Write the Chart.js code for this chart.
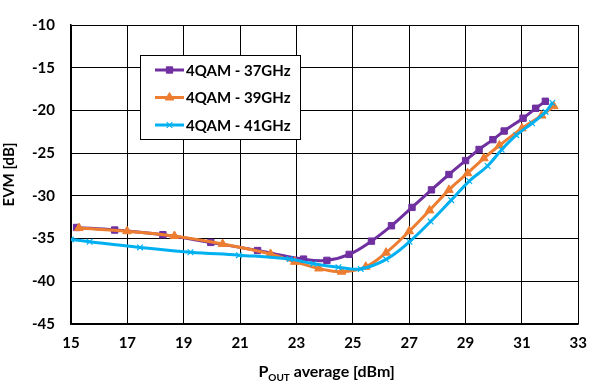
<!DOCTYPE html>
<html>
<head>
<meta charset="utf-8">
<script src="https://cdn.jsdelivr.net/npm/chart.js@4"></script>
<style>
  html, body { margin: 0; padding: 0; background: #fff; }
  #wrap { width: 597px; height: 385px; }
</style>
</head>
<body>
<div id="wrap"><canvas id="evmChart" width="597" height="385"></canvas></div>
<script>
// values
const seriesNames = ['4QAM - 37GHz', '4QAM - 39GHz', '4QAM - 41GHz'];
const seriesColors = ['#7030A0', '#ED7D31', '#00B0F0'];

const pout37 = [15.2, 16.55, 18.26, 19.96, 21.62, 23.25, 24.08, 24.87, 25.66, 26.37, 27.1, 27.79, 28.41, 29.0, 29.48, 29.97, 30.37, 31.04, 31.49, 31.83];
const evm37 = [-33.7, -34.0, -34.55, -35.45, -36.4, -37.4, -37.55, -36.85, -35.3, -33.5, -31.35, -29.3, -27.5, -25.87, -24.57, -23.42, -22.41, -20.91, -19.75, -18.93];

const pout39 = [15.28, 16.99, 18.67, 20.38, 22.08, 22.94, 23.8, 24.6, 25.46, 26.18, 27.0, 27.72, 28.41, 29.07, 29.65, 30.2, 31.0, 31.7, 32.13];
const evm39 = [-33.77, -34.14, -34.7, -35.64, -36.8, -37.72, -38.5, -38.88, -38.3, -36.65, -34.14, -31.7, -29.3, -27.35, -25.6, -24.1, -22.1, -20.6, -19.5];

const pout41 = [15.0, 15.66, 17.45, 19.24, 20.96, 22.76, 23.6, 24.49, 25.28, 26.18, 27.01, 27.76, 28.49, 29.13, 29.78, 30.28, 30.8, 31.36, 31.84, 32.08];
const evm41 = [-35.1, -35.37, -36.04, -36.6, -36.94, -37.4, -37.95, -38.36, -38.55, -37.43, -35.37, -33.0, -30.5, -28.27, -26.5, -24.6, -22.9, -21.5, -20.17, -19.1];

const xTicks = [15, 17, 19, 21, 23, 25, 27, 29, 31, 33];
const yTicks = [-45, -40, -35, -30, -25, -20, -15, -10];

const pointStyles = ['rect', 'triangle', 'crossRot'];
const pointRadii = [4.5, 5, 4];

function toPoints(xs, ys) {
  return xs.map((x, i) => ({ x, y: ys[i] }));
}

const fontFamily = 'Lato, "Open Sans", sans-serif';

// legend box drawn inside the plot, like the Excel original
const insideLegend = {
  id: 'insideLegend',
  afterDraw(chart) {
    const ctx = chart.ctx;
    const box = { x: 140.5, y: 55.5, w: 160, h: 84 };
    const rows = [70, 97.5, 125];
    ctx.save();
    ctx.fillStyle = '#fff';
    ctx.fillRect(box.x, box.y, box.w, box.h);
    ctx.strokeStyle = '#000';
    ctx.lineWidth = 1;
    ctx.strokeRect(box.x, box.y, box.w, box.h);
    chart.data.datasets.slice().sort((a, b) => a.legendIndex - b.legendIndex).forEach((ds, i) => {
      const y = rows[i];
      ctx.strokeStyle = ds.borderColor;
      ctx.lineWidth = 3;
      ctx.beginPath();
      ctx.moveTo(155, y);
      ctx.lineTo(184, y);
      ctx.stroke();
      ctx.fillStyle = ds.pointBackgroundColor;
      ctx.strokeStyle = ds.pointBorderColor;
      ctx.lineWidth = ds.pointBorderWidth;
      Chart.helpers.drawPoint(ctx, {
        pointStyle: ds.pointStyle,
        radius: ds.pointRadius,
        borderWidth: ds.pointBorderWidth
      }, 169.5, y);
      ctx.fillStyle = '#000';
      ctx.font = `bold 15px ${fontFamily}`;
      ctx.textBaseline = 'middle';
      ctx.textAlign = 'left';
      ctx.fillText(ds.label, 186, y + 1);
    });
    ctx.restore();
  }
};

// x title with subscript "OUT"
const xTitle = {
  id: 'xTitle',
  afterDraw(chart) {
    const ctx = chart.ctx;
    const area = chart.chartArea;
    const parts = [
      { text: 'P', font: `bold 16px ${fontFamily}`, dy: 0 },
      { text: 'OUT', font: `bold 10px ${fontFamily}`, dy: 4 },
      { text: ' average [dBm]', font: `bold 16px ${fontFamily}`, dy: 0 }
    ];
    ctx.save();
    let total = 0;
    parts.forEach(p => { ctx.font = p.font; p.w = ctx.measureText(p.text).width; total += p.w; });
    let x = (area.left + area.right) / 2 + 2 - total / 2;
    const y = 377;
    ctx.fillStyle = '#000';
    ctx.textBaseline = 'alphabetic';
    ctx.textAlign = 'left';
    parts.forEach(p => {
      ctx.font = p.font;
      ctx.fillText(p.text, x, y + p.dy);
      x += p.w;
    });
    ctx.restore();
  }
};

const datasets = [
  { data: toPoints(pout37, evm37), order: 2, legendIndex: 0 },
  { data: toPoints(pout39, evm39), order: 1, legendIndex: 1 },
  { data: toPoints(pout41, evm41), order: 0, legendIndex: 2 }
].map((d) => {
  const i = d.legendIndex;
  return {
    ...d,
    label: seriesNames[i],
    borderColor: seriesColors[i],
    backgroundColor: seriesColors[i],
    pointBackgroundColor: seriesColors[i],
    pointBorderColor: seriesColors[i],
    pointStyle: pointStyles[i],
    pointRadius: pointRadii[i],
    pointBorderWidth: i === 2 ? 1.2 : 1,
    borderWidth: 3,
    showLine: true,
    tension: 0.4,
    fill: false
  };
});

new Chart(document.getElementById('evmChart'), {
  type: 'scatter',
  data: { datasets },
  options: {
    responsive: false,
    animation: false,
    devicePixelRatio: 1,
    layout: { padding: { top: 12, right: 7, left: 0, bottom: 0 } },
    plugins: {
      legend: { display: false },
      tooltip: { enabled: false }
    },
    scales: {
      x: {
        type: 'linear',
        min: xTicks[0],
        max: xTicks[xTicks.length - 1],
        afterBuildTicks(scale) { scale.ticks = xTicks.map(v => ({ value: v })); },
        afterFit(scale) { scale.height = 61; },
        ticks: { color: '#000', font: { family: fontFamily, size: 15, weight: 'bold' }, padding: 10, maxRotation: 0 },
        grid: { color: '#000', lineWidth: 1, drawTicks: false },
        border: { color: '#000', width: 1.5 }
      },
      y: {
        type: 'linear',
        min: yTicks[0],
        max: yTicks[yTicks.length - 1],
        afterBuildTicks(scale) { scale.ticks = yTicks.map(v => ({ value: v })); },
        afterFit(scale) { scale.width = 71; },
        ticks: { color: '#000', font: { family: fontFamily, size: 15, weight: 'bold' }, padding: 16 },
        grid: { color: '#000', lineWidth: 1, drawTicks: false },
        border: { color: '#000', width: 1.5 },
        title: {
          display: true,
          text: 'EVM [dB]',
          color: '#000',
          font: { family: fontFamily, size: 15, weight: 'bold' },
          padding: { top: 0, bottom: 0 }
        }
      }
    }
  },
  plugins: [insideLegend, xTitle]
});
</script>
</body>
</html>
